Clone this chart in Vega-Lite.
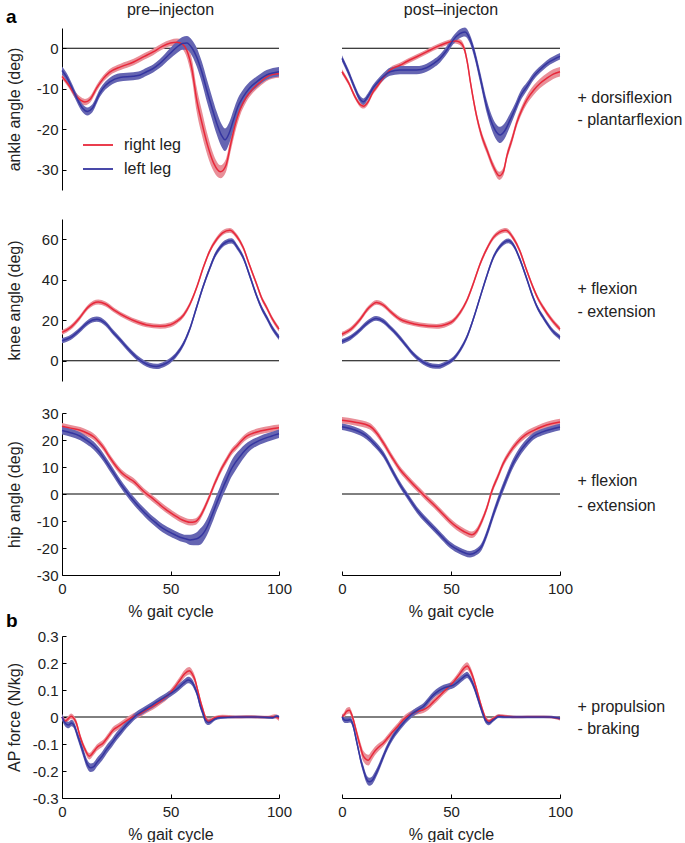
{
"$schema":"https://vega.github.io/schema/vega-lite/v6.json",
"padding":{"left":6,"top":1,"right":0,"bottom":0},
"config":{
 "font":"Liberation Sans",
 "view":{"stroke":null},
 "axis":{"grid":false,"tickSize":-4,"domainColor":"#000","tickColor":"#000","domainWidth":1,"tickWidth":1,"labelFontSize":15,"titleFontSize":16,"titleFontWeight":"normal","labelColor":"#222","titleColor":"#222","labelOverlap":false},
 "axisY":{"labelPadding":8,"titleX":-40,"titleY":81,"titleAngle":270,"titleBaseline":"bottom","titleAlign":"center"},
 "axisX":{"labelPadding":10,"titlePadding":7,"labelFlush":false},
 "title":{"fontSize":16,"fontWeight":"normal","color":"#222","baseline":"alphabetic"},
 "errorband":{"band":{"opacity":1}},
 "text":{"color":"#222","fontSize":16}
},
"datasets":{"d":[
{"p":"A1","l":"R","x":0,"m":-7,"s":0.6},{"p":"A1","l":"R","x":3,"m":-9,"s":0.7},{"p":"A1","l":"R","x":6,"m":-11.5,"s":0.8},{"p":"A1","l":"R","x":8.5,"m":-12.8,"s":0.8},{"p":"A1","l":"R","x":10.5,"m":-13.3,"s":0.8},{"p":"A1","l":"R","x":13,"m":-12.6,"s":0.8},{"p":"A1","l":"R","x":16,"m":-9.8,"s":0.8},{"p":"A1","l":"R","x":19,"m":-7.5,"s":0.8},{"p":"A1","l":"R","x":22,"m":-5.9,"s":0.8},{"p":"A1","l":"R","x":27,"m":-4.6,"s":0.8},{"p":"A1","l":"R","x":33,"m":-3.4,"s":0.8},{"p":"A1","l":"R","x":38,"m":-2,"s":0.8},{"p":"A1","l":"R","x":42,"m":-0.9,"s":0.8},{"p":"A1","l":"R","x":46,"m":0.4,"s":0.8},{"p":"A1","l":"R","x":50,"m":1.3,"s":0.8},{"p":"A1","l":"R","x":53,"m":1.5,"s":0.9},{"p":"A1","l":"R","x":55.5,"m":1,"s":1.2},{"p":"A1","l":"R","x":57.5,"m":-0.5,"s":1.8},{"p":"A1","l":"R","x":60,"m":-5.5,"s":2.5},{"p":"A1","l":"R","x":62,"m":-12.5,"s":3},{"p":"A1","l":"R","x":64.5,"m":-18.5,"s":3},{"p":"A1","l":"R","x":67,"m":-23.8,"s":2.6},{"p":"A1","l":"R","x":70,"m":-28.5,"s":2},{"p":"A1","l":"R","x":73,"m":-30.5,"s":1.6},{"p":"A1","l":"R","x":75.5,"m":-29,"s":1.6},{"p":"A1","l":"R","x":78,"m":-23,"s":1.8},{"p":"A1","l":"R","x":80,"m":-18.5,"s":1.8},{"p":"A1","l":"R","x":82,"m":-15.2,"s":1.5},{"p":"A1","l":"R","x":85,"m":-12,"s":1.2},{"p":"A1","l":"R","x":88,"m":-10,"s":1},{"p":"A1","l":"R","x":91,"m":-8.5,"s":1},{"p":"A1","l":"R","x":94,"m":-7.2,"s":1},{"p":"A1","l":"R","x":97,"m":-6.5,"s":1},{"p":"A1","l":"R","x":100,"m":-6.3,"s":1},
{"p":"A1","l":"L","x":0,"m":-5.5,"s":1},{"p":"A1","l":"L","x":2,"m":-7,"s":1},{"p":"A1","l":"L","x":4.4,"m":-9.5,"s":1},{"p":"A1","l":"L","x":7,"m":-12.5,"s":1},{"p":"A1","l":"L","x":9.5,"m":-14.8,"s":1},{"p":"A1","l":"L","x":11.7,"m":-15.6,"s":1},{"p":"A1","l":"L","x":14,"m":-14.8,"s":1},{"p":"A1","l":"L","x":17.5,"m":-11,"s":1},{"p":"A1","l":"L","x":20,"m":-9.2,"s":1},{"p":"A1","l":"L","x":22,"m":-8.3,"s":1},{"p":"A1","l":"L","x":26.7,"m":-7.2,"s":1},{"p":"A1","l":"L","x":32.8,"m":-6.9,"s":1},{"p":"A1","l":"L","x":36,"m":-6.6,"s":1},{"p":"A1","l":"L","x":39,"m":-5.8,"s":1},{"p":"A1","l":"L","x":42,"m":-5,"s":1},{"p":"A1","l":"L","x":45,"m":-3.8,"s":1.1},{"p":"A1","l":"L","x":49.8,"m":-1.3,"s":1.3},{"p":"A1","l":"L","x":53,"m":0.3,"s":1.5},{"p":"A1","l":"L","x":55.5,"m":1.2,"s":1.6},{"p":"A1","l":"L","x":57.5,"m":1.3,"s":1.7},{"p":"A1","l":"L","x":60,"m":0,"s":2},{"p":"A1","l":"L","x":62,"m":-2.1,"s":2.3},{"p":"A1","l":"L","x":64.5,"m":-6,"s":2.6},{"p":"A1","l":"L","x":66.7,"m":-10.3,"s":2.8},{"p":"A1","l":"L","x":69,"m":-14.5,"s":2.8},{"p":"A1","l":"L","x":71.3,"m":-18.5,"s":2.8},{"p":"A1","l":"L","x":73.5,"m":-21.5,"s":2.8},{"p":"A1","l":"L","x":75.1,"m":-22.6,"s":2.8},{"p":"A1","l":"L","x":77,"m":-21,"s":2.6},{"p":"A1","l":"L","x":79,"m":-17.7,"s":2.4},{"p":"A1","l":"L","x":81,"m":-14.5,"s":2.1},{"p":"A1","l":"L","x":83.5,"m":-12,"s":1.8},{"p":"A1","l":"L","x":86.5,"m":-9.8,"s":1.5},{"p":"A1","l":"L","x":89.7,"m":-8.3,"s":1.3},{"p":"A1","l":"L","x":94.3,"m":-6.6,"s":1.2},{"p":"A1","l":"L","x":100,"m":-5.8,"s":1.2},
{"p":"A2","l":"R","x":0,"m":-5.8,"s":0.6},{"p":"A2","l":"R","x":3,"m":-8.5,"s":0.6},{"p":"A2","l":"R","x":6,"m":-12,"s":0.6},{"p":"A2","l":"R","x":8.5,"m":-14,"s":0.6},{"p":"A2","l":"R","x":10,"m":-14.3,"s":0.6},{"p":"A2","l":"R","x":12,"m":-13.2,"s":0.6},{"p":"A2","l":"R","x":14,"m":-11,"s":0.6},{"p":"A2","l":"R","x":16,"m":-9.5,"s":0.6},{"p":"A2","l":"R","x":19,"m":-7.3,"s":0.6},{"p":"A2","l":"R","x":22,"m":-5.4,"s":0.6},{"p":"A2","l":"R","x":26.6,"m":-4.2,"s":0.6},{"p":"A2","l":"R","x":30,"m":-3.2,"s":0.6},{"p":"A2","l":"R","x":34.3,"m":-2.1,"s":0.6},{"p":"A2","l":"R","x":38.8,"m":-0.9,"s":0.6},{"p":"A2","l":"R","x":45,"m":0.7,"s":0.6},{"p":"A2","l":"R","x":49,"m":1.5,"s":0.6},{"p":"A2","l":"R","x":52,"m":1.8,"s":0.6},{"p":"A2","l":"R","x":54,"m":1.5,"s":0.7},{"p":"A2","l":"R","x":56,"m":0,"s":0.8},{"p":"A2","l":"R","x":57.5,"m":-3.5,"s":1},{"p":"A2","l":"R","x":59,"m":-8.7,"s":1},{"p":"A2","l":"R","x":61.8,"m":-16.9,"s":1},{"p":"A2","l":"R","x":64,"m":-21.5,"s":1},{"p":"A2","l":"R","x":66.4,"m":-25,"s":1},{"p":"A2","l":"R","x":69.4,"m":-29.2,"s":1},{"p":"A2","l":"R","x":72.2,"m":-31.5,"s":1},{"p":"A2","l":"R","x":74,"m":-30.5,"s":1},{"p":"A2","l":"R","x":75.6,"m":-26.7,"s":1},{"p":"A2","l":"R","x":78,"m":-22.5,"s":1},{"p":"A2","l":"R","x":80.1,"m":-18.5,"s":1},{"p":"A2","l":"R","x":82.5,"m":-15.2,"s":1},{"p":"A2","l":"R","x":84.7,"m":-12.8,"s":1.1},{"p":"A2","l":"R","x":88,"m":-10.3,"s":1.2},{"p":"A2","l":"R","x":90.8,"m":-8.7,"s":1.2},{"p":"A2","l":"R","x":94,"m":-7.4,"s":1.2},{"p":"A2","l":"R","x":96.9,"m":-6.4,"s":1.2},{"p":"A2","l":"R","x":100,"m":-5.8,"s":1.2},
{"p":"A2","l":"L","x":0,"m":-2.5,"s":0.8},{"p":"A2","l":"L","x":3,"m":-6,"s":0.8},{"p":"A2","l":"L","x":6,"m":-10,"s":0.8},{"p":"A2","l":"L","x":8,"m":-12.3,"s":0.8},{"p":"A2","l":"L","x":9.8,"m":-13.2,"s":0.8},{"p":"A2","l":"L","x":12,"m":-11.8,"s":0.8},{"p":"A2","l":"L","x":14,"m":-10,"s":0.8},{"p":"A2","l":"L","x":15.9,"m":-8.7,"s":0.8},{"p":"A2","l":"L","x":19,"m":-7,"s":0.9},{"p":"A2","l":"L","x":22,"m":-5.8,"s":1},{"p":"A2","l":"L","x":26.6,"m":-5.4,"s":1},{"p":"A2","l":"L","x":30,"m":-5.4,"s":1},{"p":"A2","l":"L","x":34.3,"m":-5.4,"s":1},{"p":"A2","l":"L","x":38.8,"m":-4.8,"s":1},{"p":"A2","l":"L","x":42,"m":-3.8,"s":1},{"p":"A2","l":"L","x":45,"m":-2.5,"s":1},{"p":"A2","l":"L","x":48,"m":-0.5,"s":1},{"p":"A2","l":"L","x":51,"m":2,"s":1},{"p":"A2","l":"L","x":54,"m":3.6,"s":1.1},{"p":"A2","l":"L","x":56.4,"m":4,"s":1.1},{"p":"A2","l":"L","x":58.5,"m":2.5,"s":1.1},{"p":"A2","l":"L","x":60.4,"m":-0.5,"s":1.2},{"p":"A2","l":"L","x":63.3,"m":-7,"s":1.4},{"p":"A2","l":"L","x":66.4,"m":-14.4,"s":1.6},{"p":"A2","l":"L","x":69.4,"m":-19.3,"s":1.8},{"p":"A2","l":"L","x":72.5,"m":-21.4,"s":2},{"p":"A2","l":"L","x":74.5,"m":-20.5,"s":1.9},{"p":"A2","l":"L","x":77.1,"m":-17.7,"s":1.6},{"p":"A2","l":"L","x":79.5,"m":-14.8,"s":1.3},{"p":"A2","l":"L","x":81.7,"m":-12,"s":1.2},{"p":"A2","l":"L","x":85,"m":-9.3,"s":1},{"p":"A2","l":"L","x":87.8,"m":-7,"s":0.9},{"p":"A2","l":"L","x":91,"m":-5.2,"s":0.8},{"p":"A2","l":"L","x":93.9,"m":-3.8,"s":0.8},{"p":"A2","l":"L","x":97,"m":-2.8,"s":0.8},{"p":"A2","l":"L","x":100,"m":-2,"s":0.8},
{"p":"K1","l":"R","x":0,"m":14,"s":1.2},{"p":"K1","l":"R","x":4,"m":16.5,"s":1.2},{"p":"K1","l":"R","x":8,"m":21,"s":1.2},{"p":"K1","l":"R","x":12,"m":26.5,"s":1.2},{"p":"K1","l":"R","x":16.7,"m":29,"s":1.2},{"p":"K1","l":"R","x":20,"m":28,"s":1.2},{"p":"K1","l":"R","x":24,"m":25,"s":1.2},{"p":"K1","l":"R","x":29.8,"m":21.4,"s":1.2},{"p":"K1","l":"R","x":35,"m":19,"s":1.2},{"p":"K1","l":"R","x":39,"m":17.7,"s":1.2},{"p":"K1","l":"R","x":45.2,"m":17,"s":1.2},{"p":"K1","l":"R","x":50,"m":17.8,"s":1.2},{"p":"K1","l":"R","x":52.8,"m":19.4,"s":1.2},{"p":"K1","l":"R","x":56,"m":22.5,"s":1.2},{"p":"K1","l":"R","x":59,"m":28,"s":1.2},{"p":"K1","l":"R","x":62,"m":36,"s":1.2},{"p":"K1","l":"R","x":65.1,"m":46,"s":1.2},{"p":"K1","l":"R","x":68,"m":54,"s":1.2},{"p":"K1","l":"R","x":71.3,"m":60,"s":1.2},{"p":"K1","l":"R","x":74,"m":63.2,"s":1.2},{"p":"K1","l":"R","x":77.4,"m":64.4,"s":1.2},{"p":"K1","l":"R","x":80.5,"m":61.5,"s":1.2},{"p":"K1","l":"R","x":83.5,"m":55.9,"s":1.2},{"p":"K1","l":"R","x":86.5,"m":47,"s":1.2},{"p":"K1","l":"R","x":89.7,"m":37.8,"s":1.2},{"p":"K1","l":"R","x":92,"m":31,"s":1.2},{"p":"K1","l":"R","x":94.3,"m":26.3,"s":1.2},{"p":"K1","l":"R","x":97,"m":20.5,"s":1.2},{"p":"K1","l":"R","x":100,"m":15.6,"s":1.2},
{"p":"K1","l":"L","x":0,"m":9.9,"s":1.3},{"p":"K1","l":"L","x":4,"m":11.5,"s":1.3},{"p":"K1","l":"L","x":8,"m":15,"s":1.3},{"p":"K1","l":"L","x":12,"m":19,"s":1.3},{"p":"K1","l":"L","x":16,"m":20.5,"s":1.3},{"p":"K1","l":"L","x":20,"m":18.5,"s":1.3},{"p":"K1","l":"L","x":23.6,"m":14,"s":1.3},{"p":"K1","l":"L","x":27.5,"m":9.5,"s":1.3},{"p":"K1","l":"L","x":31.3,"m":4.9,"s":1.3},{"p":"K1","l":"L","x":34.5,"m":1.5,"s":1.3},{"p":"K1","l":"L","x":37.5,"m":-0.8,"s":1.3},{"p":"K1","l":"L","x":40.5,"m":-2.3,"s":1.3},{"p":"K1","l":"L","x":43.6,"m":-2.8,"s":1.3},{"p":"K1","l":"L","x":46.5,"m":-2,"s":1.3},{"p":"K1","l":"L","x":49.8,"m":0,"s":1.3},{"p":"K1","l":"L","x":52.8,"m":3.2,"s":1.3},{"p":"K1","l":"L","x":55.9,"m":8.2,"s":1.3},{"p":"K1","l":"L","x":59,"m":16,"s":1.3},{"p":"K1","l":"L","x":62,"m":26.3,"s":1.3},{"p":"K1","l":"L","x":65,"m":36.5,"s":1.3},{"p":"K1","l":"L","x":68.2,"m":46,"s":1.3},{"p":"K1","l":"L","x":70.5,"m":52,"s":1.3},{"p":"K1","l":"L","x":72.8,"m":55.9,"s":1.3},{"p":"K1","l":"L","x":75.5,"m":58.5,"s":1.3},{"p":"K1","l":"L","x":78.2,"m":59.2,"s":1.3},{"p":"K1","l":"L","x":80.8,"m":56,"s":1.3},{"p":"K1","l":"L","x":83.5,"m":51,"s":1.3},{"p":"K1","l":"L","x":86.5,"m":42,"s":1.3},{"p":"K1","l":"L","x":89.7,"m":32,"s":1.3},{"p":"K1","l":"L","x":92,"m":26,"s":1.3},{"p":"K1","l":"L","x":94.3,"m":21.4,"s":1.3},{"p":"K1","l":"L","x":97,"m":16,"s":1.3},{"p":"K1","l":"L","x":100,"m":11.5,"s":1.3},
{"p":"K2","l":"R","x":0,"m":13.1,"s":1.2},{"p":"K2","l":"R","x":4,"m":15.5,"s":1.2},{"p":"K2","l":"R","x":8,"m":20,"s":1.2},{"p":"K2","l":"R","x":12,"m":25.8,"s":1.2},{"p":"K2","l":"R","x":15.9,"m":28.8,"s":1.2},{"p":"K2","l":"R","x":19,"m":27.5,"s":1.2},{"p":"K2","l":"R","x":22.5,"m":24,"s":1.2},{"p":"K2","l":"R","x":26.6,"m":20.5,"s":1.2},{"p":"K2","l":"R","x":31,"m":18.8,"s":1.2},{"p":"K2","l":"R","x":35.8,"m":17.7,"s":1.2},{"p":"K2","l":"R","x":43.4,"m":17,"s":1.2},{"p":"K2","l":"R","x":48,"m":18,"s":1.2},{"p":"K2","l":"R","x":51,"m":19.7,"s":1.2},{"p":"K2","l":"R","x":54,"m":23.5,"s":1.2},{"p":"K2","l":"R","x":57.2,"m":29.6,"s":1.2},{"p":"K2","l":"R","x":60.2,"m":38,"s":1.2},{"p":"K2","l":"R","x":63.3,"m":47.7,"s":1.2},{"p":"K2","l":"R","x":66.3,"m":55,"s":1.2},{"p":"K2","l":"R","x":69.4,"m":60.8,"s":1.2},{"p":"K2","l":"R","x":72.3,"m":63.5,"s":1.2},{"p":"K2","l":"R","x":75.2,"m":64.4,"s":1.2},{"p":"K2","l":"R","x":78.3,"m":61,"s":1.2},{"p":"K2","l":"R","x":81.6,"m":54.2,"s":1.2},{"p":"K2","l":"R","x":84.6,"m":45,"s":1.2},{"p":"K2","l":"R","x":87.7,"m":36.1,"s":1.2},{"p":"K2","l":"R","x":90,"m":30.5,"s":1.2},{"p":"K2","l":"R","x":92.3,"m":26.3,"s":1.2},{"p":"K2","l":"R","x":96,"m":20.5,"s":1.2},{"p":"K2","l":"R","x":100,"m":15.6,"s":1.2},
{"p":"K2","l":"L","x":0,"m":9.5,"s":1.2},{"p":"K2","l":"L","x":4,"m":11.5,"s":1.2},{"p":"K2","l":"L","x":8,"m":15,"s":1.2},{"p":"K2","l":"L","x":12,"m":19,"s":1.2},{"p":"K2","l":"L","x":15.6,"m":20.9,"s":1.2},{"p":"K2","l":"L","x":19,"m":19.5,"s":1.2},{"p":"K2","l":"L","x":22,"m":16.5,"s":1.2},{"p":"K2","l":"L","x":25.1,"m":13.1,"s":1.2},{"p":"K2","l":"L","x":28.9,"m":8.2,"s":1.2},{"p":"K2","l":"L","x":32.7,"m":3.3,"s":1.2},{"p":"K2","l":"L","x":35.8,"m":0.3,"s":1.2},{"p":"K2","l":"L","x":38.8,"m":-1.6,"s":1.2},{"p":"K2","l":"L","x":41.5,"m":-2.6,"s":1.2},{"p":"K2","l":"L","x":44.2,"m":-2.8,"s":1.2},{"p":"K2","l":"L","x":47.5,"m":-1.5,"s":1.2},{"p":"K2","l":"L","x":51,"m":0.8,"s":1.2},{"p":"K2","l":"L","x":54,"m":5,"s":1.2},{"p":"K2","l":"L","x":57.2,"m":11.5,"s":1.2},{"p":"K2","l":"L","x":60.2,"m":20.5,"s":1.2},{"p":"K2","l":"L","x":63.3,"m":31.2,"s":1.2},{"p":"K2","l":"L","x":66.3,"m":41.5,"s":1.2},{"p":"K2","l":"L","x":69.4,"m":51,"s":1.2},{"p":"K2","l":"L","x":72.5,"m":56.5,"s":1.2},{"p":"K2","l":"L","x":76.4,"m":59.2,"s":1.2},{"p":"K2","l":"L","x":79,"m":56.5,"s":1.2},{"p":"K2","l":"L","x":81.6,"m":50.1,"s":1.2},{"p":"K2","l":"L","x":84.6,"m":41,"s":1.2},{"p":"K2","l":"L","x":87.7,"m":31.2,"s":1.2},{"p":"K2","l":"L","x":90,"m":25.5,"s":1.2},{"p":"K2","l":"L","x":92.3,"m":21.4,"s":1.2},{"p":"K2","l":"L","x":96,"m":15.5,"s":1.2},{"p":"K2","l":"L","x":100,"m":11.5,"s":1.2},
{"p":"H1","l":"R","x":0,"m":25.1,"s":1.2},{"p":"H1","l":"R","x":4,"m":24.4,"s":1.2},{"p":"H1","l":"R","x":8.4,"m":23.6,"s":1.2},{"p":"H1","l":"R","x":11.5,"m":22.6,"s":1.2},{"p":"H1","l":"R","x":14.6,"m":21.2,"s":1.2},{"p":"H1","l":"R","x":17,"m":19.3,"s":1.2},{"p":"H1","l":"R","x":19.2,"m":17.1,"s":1.2},{"p":"H1","l":"R","x":21.5,"m":14.2,"s":1.2},{"p":"H1","l":"R","x":23.8,"m":11.5,"s":1.2},{"p":"H1","l":"R","x":26,"m":9.2,"s":1.2},{"p":"H1","l":"R","x":28.4,"m":7.2,"s":1.2},{"p":"H1","l":"R","x":31,"m":5.7,"s":1.2},{"p":"H1","l":"R","x":33,"m":4.7,"s":1.2},{"p":"H1","l":"R","x":35.3,"m":2.9,"s":1.2},{"p":"H1","l":"R","x":37.6,"m":1,"s":1.2},{"p":"H1","l":"R","x":40.6,"m":-0.9,"s":1.2},{"p":"H1","l":"R","x":43,"m":-2.5,"s":1.2},{"p":"H1","l":"R","x":45.2,"m":-4,"s":1.2},{"p":"H1","l":"R","x":47.5,"m":-5.5,"s":1.2},{"p":"H1","l":"R","x":49.8,"m":-6.8,"s":1.2},{"p":"H1","l":"R","x":52,"m":-8,"s":1.2},{"p":"H1","l":"R","x":54.4,"m":-9.2,"s":1.2},{"p":"H1","l":"R","x":57,"m":-10.1,"s":1.2},{"p":"H1","l":"R","x":59,"m":-10.5,"s":1.2},{"p":"H1","l":"R","x":61.3,"m":-10.3,"s":1.2},{"p":"H1","l":"R","x":63.7,"m":-8.3,"s":1.2},{"p":"H1","l":"R","x":65.2,"m":-6,"s":1.2},{"p":"H1","l":"R","x":66.7,"m":-3.3,"s":1.2},{"p":"H1","l":"R","x":68.3,"m":-0.3,"s":1.2},{"p":"H1","l":"R","x":69.8,"m":2.8,"s":1.2},{"p":"H1","l":"R","x":71.4,"m":5.7,"s":1.2},{"p":"H1","l":"R","x":72.9,"m":8.4,"s":1.2},{"p":"H1","l":"R","x":75.9,"m":12.7,"s":1.2},{"p":"H1","l":"R","x":78,"m":15.5,"s":1.2},{"p":"H1","l":"R","x":80.5,"m":17.7,"s":1.2},{"p":"H1","l":"R","x":83,"m":19.9,"s":1.2},{"p":"H1","l":"R","x":85.1,"m":21.4,"s":1.2},{"p":"H1","l":"R","x":88,"m":22.5,"s":1.2},{"p":"H1","l":"R","x":91.3,"m":23.3,"s":1.2},{"p":"H1","l":"R","x":95.5,"m":24,"s":1.2},{"p":"H1","l":"R","x":100,"m":24.5,"s":1.2},
{"p":"H1","l":"L","x":0,"m":23.5,"s":1.5},{"p":"H1","l":"L","x":4,"m":22.7,"s":1.5},{"p":"H1","l":"L","x":8.4,"m":21.4,"s":1.5},{"p":"H1","l":"L","x":11.5,"m":19.8,"s":1.5},{"p":"H1","l":"L","x":14.6,"m":17.9,"s":1.5},{"p":"H1","l":"L","x":17,"m":15.8,"s":1.5},{"p":"H1","l":"L","x":19.2,"m":13.4,"s":1.5},{"p":"H1","l":"L","x":21.5,"m":10.6,"s":1.5},{"p":"H1","l":"L","x":23.8,"m":7.8,"s":1.5},{"p":"H1","l":"L","x":26,"m":5,"s":1.5},{"p":"H1","l":"L","x":28.4,"m":2.2,"s":1.5},{"p":"H1","l":"L","x":31.4,"m":-0.9,"s":1.5},{"p":"H1","l":"L","x":33.7,"m":-3.1,"s":1.5},{"p":"H1","l":"L","x":36,"m":-5.2,"s":1.5},{"p":"H1","l":"L","x":38.3,"m":-7.1,"s":1.5},{"p":"H1","l":"L","x":40.6,"m":-8.9,"s":1.5},{"p":"H1","l":"L","x":43,"m":-10.5,"s":1.5},{"p":"H1","l":"L","x":45.2,"m":-12,"s":1.5},{"p":"H1","l":"L","x":47.5,"m":-13.2,"s":1.5},{"p":"H1","l":"L","x":49.8,"m":-14.2,"s":1.5},{"p":"H1","l":"L","x":52,"m":-15.1,"s":1.5},{"p":"H1","l":"L","x":54.4,"m":-16,"s":1.5},{"p":"H1","l":"L","x":57,"m":-16.6,"s":1.5},{"p":"H1","l":"L","x":59,"m":-17,"s":1.9},{"p":"H1","l":"L","x":62.1,"m":-16.6,"s":2.4},{"p":"H1","l":"L","x":63.7,"m":-15.8,"s":3},{"p":"H1","l":"L","x":65.2,"m":-14.5,"s":3},{"p":"H1","l":"L","x":66.8,"m":-12.3,"s":3},{"p":"H1","l":"L","x":68.3,"m":-9.5,"s":3},{"p":"H1","l":"L","x":69.8,"m":-6.5,"s":3},{"p":"H1","l":"L","x":71.3,"m":-3.3,"s":3},{"p":"H1","l":"L","x":72.9,"m":-0.2,"s":3},{"p":"H1","l":"L","x":74.4,"m":2.8,"s":3},{"p":"H1","l":"L","x":76,"m":5.6,"s":3},{"p":"H1","l":"L","x":77.5,"m":8.4,"s":3},{"p":"H1","l":"L","x":79.8,"m":11.5,"s":3},{"p":"H1","l":"L","x":82.1,"m":14,"s":2.6},{"p":"H1","l":"L","x":84.4,"m":16.2,"s":2.2},{"p":"H1","l":"L","x":86.7,"m":17.9,"s":1.8},{"p":"H1","l":"L","x":89.7,"m":19.3,"s":1.6},{"p":"H1","l":"L","x":92.8,"m":20.4,"s":1.6},{"p":"H1","l":"L","x":96.4,"m":21.4,"s":1.6},{"p":"H1","l":"L","x":100,"m":22.3,"s":1.6},
{"p":"H2","l":"R","x":0,"m":27.3,"s":1.2},{"p":"H2","l":"R","x":6,"m":26.6,"s":1.2},{"p":"H2","l":"R","x":12.8,"m":25.1,"s":1.2},{"p":"H2","l":"R","x":16,"m":22.5,"s":1.2},{"p":"H2","l":"R","x":19,"m":18.9,"s":1.2},{"p":"H2","l":"R","x":22.8,"m":13.8,"s":1.2},{"p":"H2","l":"R","x":26.6,"m":9.1,"s":1.2},{"p":"H2","l":"R","x":30.5,"m":5.5,"s":1.2},{"p":"H2","l":"R","x":34.3,"m":2.2,"s":1.2},{"p":"H2","l":"R","x":38,"m":-0.8,"s":1.2},{"p":"H2","l":"R","x":42,"m":-3.9,"s":1.2},{"p":"H2","l":"R","x":45.8,"m":-7,"s":1.2},{"p":"H2","l":"R","x":49.5,"m":-10.1,"s":1.2},{"p":"H2","l":"R","x":52.6,"m":-12.2,"s":1.2},{"p":"H2","l":"R","x":55.7,"m":-13.8,"s":1.2},{"p":"H2","l":"R","x":59.5,"m":-15.1,"s":1.2},{"p":"H2","l":"R","x":62,"m":-13.5,"s":1.2},{"p":"H2","l":"R","x":64.1,"m":-10.1,"s":1.2},{"p":"H2","l":"R","x":66.5,"m":-5,"s":1.2},{"p":"H2","l":"R","x":68.7,"m":1,"s":1.2},{"p":"H2","l":"R","x":71.5,"m":6.5,"s":1.2},{"p":"H2","l":"R","x":74.1,"m":11.5,"s":1.2},{"p":"H2","l":"R","x":77,"m":15.5,"s":1.2},{"p":"H2","l":"R","x":80.2,"m":18.9,"s":1.2},{"p":"H2","l":"R","x":84,"m":21.8,"s":1.2},{"p":"H2","l":"R","x":87.8,"m":23.5,"s":1.2},{"p":"H2","l":"R","x":92,"m":25,"s":1.2},{"p":"H2","l":"R","x":96,"m":26,"s":1.2},{"p":"H2","l":"R","x":100,"m":26.7,"s":1.2},
{"p":"H2","l":"L","x":0,"m":24.9,"s":1.2},{"p":"H2","l":"L","x":5.5,"m":23.8,"s":1.2},{"p":"H2","l":"L","x":11.3,"m":21.4,"s":1.2},{"p":"H2","l":"L","x":15,"m":18.5,"s":1.2},{"p":"H2","l":"L","x":19,"m":14.6,"s":1.2},{"p":"H2","l":"L","x":22.8,"m":9,"s":1.2},{"p":"H2","l":"L","x":26.6,"m":3.5,"s":1.2},{"p":"H2","l":"L","x":30.5,"m":-1.3,"s":1.2},{"p":"H2","l":"L","x":34.3,"m":-5.8,"s":1.2},{"p":"H2","l":"L","x":38,"m":-9.3,"s":1.2},{"p":"H2","l":"L","x":42,"m":-12.6,"s":1.2},{"p":"H2","l":"L","x":45.8,"m":-15.8,"s":1.2},{"p":"H2","l":"L","x":49.5,"m":-18.8,"s":1.2},{"p":"H2","l":"L","x":54,"m":-21,"s":1.2},{"p":"H2","l":"L","x":58.7,"m":-22.3,"s":1.2},{"p":"H2","l":"L","x":61.5,"m":-21.5,"s":1.2},{"p":"H2","l":"L","x":64.1,"m":-19.4,"s":1.3},{"p":"H2","l":"L","x":66.8,"m":-14,"s":1.5},{"p":"H2","l":"L","x":69.4,"m":-7.6,"s":1.6},{"p":"H2","l":"L","x":72.5,"m":-0.5,"s":1.7},{"p":"H2","l":"L","x":75.6,"m":5.9,"s":1.7},{"p":"H2","l":"L","x":78.6,"m":11.5,"s":1.7},{"p":"H2","l":"L","x":81.7,"m":15.8,"s":1.6},{"p":"H2","l":"L","x":84.8,"m":19,"s":1.5},{"p":"H2","l":"L","x":87.8,"m":21.4,"s":1.3},{"p":"H2","l":"L","x":92,"m":23,"s":1.2},{"p":"H2","l":"L","x":96,"m":24,"s":1.2},{"p":"H2","l":"L","x":100,"m":24.8,"s":1.2},
{"p":"F1","l":"R","x":0,"m":0,"s":0.01},{"p":"F1","l":"R","x":1.5,"m":-0.015,"s":0.01},{"p":"F1","l":"R","x":3,"m":-0.005,"s":0.01},{"p":"F1","l":"R","x":4.2,"m":0.003,"s":0.01},{"p":"F1","l":"R","x":5.5,"m":-0.005,"s":0.01},{"p":"F1","l":"R","x":6.5,"m":-0.02,"s":0.012},{"p":"F1","l":"R","x":8.3,"m":-0.071,"s":0.012},{"p":"F1","l":"R","x":10.6,"m":-0.12,"s":0.012},{"p":"F1","l":"R","x":12.6,"m":-0.145,"s":0.012},{"p":"F1","l":"R","x":14.5,"m":-0.13,"s":0.012},{"p":"F1","l":"R","x":16,"m":-0.114,"s":0.012},{"p":"F1","l":"R","x":19,"m":-0.096,"s":0.012},{"p":"F1","l":"R","x":21.5,"m":-0.07,"s":0.012},{"p":"F1","l":"R","x":23.7,"m":-0.047,"s":0.012},{"p":"F1","l":"R","x":26,"m":-0.035,"s":0.012},{"p":"F1","l":"R","x":28.3,"m":-0.022,"s":0.012},{"p":"F1","l":"R","x":32.9,"m":0.002,"s":0.012},{"p":"F1","l":"R","x":36,"m":0.012,"s":0.012},{"p":"F1","l":"R","x":39,"m":0.027,"s":0.012},{"p":"F1","l":"R","x":42,"m":0.04,"s":0.012},{"p":"F1","l":"R","x":45.2,"m":0.057,"s":0.012},{"p":"F1","l":"R","x":49.8,"m":0.088,"s":0.012},{"p":"F1","l":"R","x":52,"m":0.11,"s":0.012},{"p":"F1","l":"R","x":54.4,"m":0.137,"s":0.013},{"p":"F1","l":"R","x":56.5,"m":0.16,"s":0.014},{"p":"F1","l":"R","x":58.7,"m":0.171,"s":0.014},{"p":"F1","l":"R","x":60,"m":0.16,"s":0.014},{"p":"F1","l":"R","x":61.3,"m":0.137,"s":0.014},{"p":"F1","l":"R","x":62.5,"m":0.1,"s":0.012},{"p":"F1","l":"R","x":63.6,"m":0.064,"s":0.012},{"p":"F1","l":"R","x":65,"m":0.025,"s":0.012},{"p":"F1","l":"R","x":65.9,"m":0.002,"s":0.01},{"p":"F1","l":"R","x":67.4,"m":-0.016,"s":0.01},{"p":"F1","l":"R","x":69,"m":-0.01,"s":0.008},{"p":"F1","l":"R","x":70.5,"m":-0.002,"s":0.006},{"p":"F1","l":"R","x":74,"m":0.002,"s":0.006},{"p":"F1","l":"R","x":80,"m":0,"s":0.006},{"p":"F1","l":"R","x":85,"m":0.001,"s":0.006},{"p":"F1","l":"R","x":90,"m":0,"s":0.006},{"p":"F1","l":"R","x":95,"m":-0.001,"s":0.006},{"p":"F1","l":"R","x":98,"m":0.002,"s":0.008},{"p":"F1","l":"R","x":100,"m":-0.005,"s":0.01},
{"p":"F1","l":"L","x":0,"m":0,"s":0.012},{"p":"F1","l":"L","x":1.4,"m":-0.022,"s":0.012},{"p":"F1","l":"L","x":3,"m":-0.03,"s":0.012},{"p":"F1","l":"L","x":4.4,"m":-0.022,"s":0.012},{"p":"F1","l":"L","x":5.5,"m":-0.03,"s":0.012},{"p":"F1","l":"L","x":6.8,"m":-0.059,"s":0.014},{"p":"F1","l":"L","x":8.3,"m":-0.095,"s":0.015},{"p":"F1","l":"L","x":9.8,"m":-0.132,"s":0.016},{"p":"F1","l":"L","x":11.3,"m":-0.169,"s":0.016},{"p":"F1","l":"L","x":13.2,"m":-0.188,"s":0.016},{"p":"F1","l":"L","x":14.5,"m":-0.185,"s":0.016},{"p":"F1","l":"L","x":16,"m":-0.169,"s":0.016},{"p":"F1","l":"L","x":18.5,"m":-0.145,"s":0.016},{"p":"F1","l":"L","x":20.6,"m":-0.12,"s":0.016},{"p":"F1","l":"L","x":23,"m":-0.096,"s":0.015},{"p":"F1","l":"L","x":25.2,"m":-0.071,"s":0.015},{"p":"F1","l":"L","x":27.5,"m":-0.05,"s":0.014},{"p":"F1","l":"L","x":29.8,"m":-0.028,"s":0.013},{"p":"F1","l":"L","x":32,"m":-0.01,"s":0.012},{"p":"F1","l":"L","x":34.4,"m":0.008,"s":0.012},{"p":"F1","l":"L","x":37.5,"m":0.024,"s":0.012},{"p":"F1","l":"L","x":40.5,"m":0.039,"s":0.012},{"p":"F1","l":"L","x":43.5,"m":0.055,"s":0.012},{"p":"F1","l":"L","x":46.7,"m":0.07,"s":0.012},{"p":"F1","l":"L","x":49,"m":0.082,"s":0.012},{"p":"F1","l":"L","x":51.3,"m":0.094,"s":0.012},{"p":"F1","l":"L","x":53.6,"m":0.108,"s":0.012},{"p":"F1","l":"L","x":55.9,"m":0.125,"s":0.012},{"p":"F1","l":"L","x":58.2,"m":0.137,"s":0.012},{"p":"F1","l":"L","x":59.8,"m":0.13,"s":0.012},{"p":"F1","l":"L","x":61.3,"m":0.107,"s":0.012},{"p":"F1","l":"L","x":62.5,"m":0.08,"s":0.012},{"p":"F1","l":"L","x":63.6,"m":0.045,"s":0.012},{"p":"F1","l":"L","x":65,"m":0.012,"s":0.011},{"p":"F1","l":"L","x":65.9,"m":-0.01,"s":0.011},{"p":"F1","l":"L","x":67.4,"m":-0.02,"s":0.01},{"p":"F1","l":"L","x":69,"m":-0.015,"s":0.008},{"p":"F1","l":"L","x":70.5,"m":-0.007,"s":0.006},{"p":"F1","l":"L","x":73,"m":-0.002,"s":0.005},{"p":"F1","l":"L","x":80,"m":0,"s":0.005},{"p":"F1","l":"L","x":90,"m":0,"s":0.005},{"p":"F1","l":"L","x":97,"m":-0.002,"s":0.005},{"p":"F1","l":"L","x":99,"m":0.003,"s":0.005},{"p":"F1","l":"L","x":100,"m":0,"s":0.005},
{"p":"F2","l":"R","x":0,"m":0,"s":0.01},{"p":"F2","l":"R","x":1,"m":0.008,"s":0.01},{"p":"F2","l":"R","x":2.1,"m":0.021,"s":0.012},{"p":"F2","l":"R","x":3.4,"m":0.025,"s":0.012},{"p":"F2","l":"R","x":4.3,"m":0.012,"s":0.012},{"p":"F2","l":"R","x":5.2,"m":-0.01,"s":0.012},{"p":"F2","l":"R","x":6.3,"m":-0.045,"s":0.014},{"p":"F2","l":"R","x":7.5,"m":-0.083,"s":0.016},{"p":"F2","l":"R","x":8.6,"m":-0.115,"s":0.018},{"p":"F2","l":"R","x":9.8,"m":-0.145,"s":0.02},{"p":"F2","l":"R","x":12.1,"m":-0.16,"s":0.02},{"p":"F2","l":"R","x":13.5,"m":-0.145,"s":0.018},{"p":"F2","l":"R","x":15.1,"m":-0.126,"s":0.016},{"p":"F2","l":"R","x":17,"m":-0.11,"s":0.014},{"p":"F2","l":"R","x":19,"m":-0.096,"s":0.012},{"p":"F2","l":"R","x":21.2,"m":-0.075,"s":0.012},{"p":"F2","l":"R","x":23.5,"m":-0.053,"s":0.012},{"p":"F2","l":"R","x":25.8,"m":-0.032,"s":0.012},{"p":"F2","l":"R","x":28.1,"m":-0.01,"s":0.012},{"p":"F2","l":"R","x":30.4,"m":0.005,"s":0.012},{"p":"F2","l":"R","x":32.7,"m":0.015,"s":0.012},{"p":"F2","l":"R","x":35,"m":0.022,"s":0.012},{"p":"F2","l":"R","x":37.3,"m":0.027,"s":0.012},{"p":"F2","l":"R","x":39.6,"m":0.038,"s":0.012},{"p":"F2","l":"R","x":42,"m":0.057,"s":0.012},{"p":"F2","l":"R","x":44.3,"m":0.075,"s":0.012},{"p":"F2","l":"R","x":46.6,"m":0.094,"s":0.012},{"p":"F2","l":"R","x":49,"m":0.112,"s":0.012},{"p":"F2","l":"R","x":51.3,"m":0.131,"s":0.012},{"p":"F2","l":"R","x":53.6,"m":0.155,"s":0.013},{"p":"F2","l":"R","x":55.9,"m":0.18,"s":0.014},{"p":"F2","l":"R","x":57.4,"m":0.189,"s":0.014},{"p":"F2","l":"R","x":59,"m":0.17,"s":0.014},{"p":"F2","l":"R","x":60.5,"m":0.137,"s":0.013},{"p":"F2","l":"R","x":62,"m":0.095,"s":0.012},{"p":"F2","l":"R","x":63.5,"m":0.051,"s":0.012},{"p":"F2","l":"R","x":64.7,"m":0.02,"s":0.01},{"p":"F2","l":"R","x":65.8,"m":-0.004,"s":0.01},{"p":"F2","l":"R","x":67.4,"m":-0.016,"s":0.008},{"p":"F2","l":"R","x":69.5,"m":-0.005,"s":0.006},{"p":"F2","l":"R","x":72,"m":0.005,"s":0.006},{"p":"F2","l":"R","x":75,"m":0.003,"s":0.005},{"p":"F2","l":"R","x":80,"m":0,"s":0.005},{"p":"F2","l":"R","x":85,"m":0.001,"s":0.005},{"p":"F2","l":"R","x":90,"m":0.001,"s":0.005},{"p":"F2","l":"R","x":95,"m":0,"s":0.005},{"p":"F2","l":"R","x":100,"m":-0.007,"s":0.006},
{"p":"F2","l":"L","x":0,"m":0,"s":0.01},{"p":"F2","l":"L","x":1.4,"m":-0.012,"s":0.01},{"p":"F2","l":"L","x":2.5,"m":-0.012,"s":0.01},{"p":"F2","l":"L","x":3.7,"m":-0.01,"s":0.01},{"p":"F2","l":"L","x":5.2,"m":-0.034,"s":0.012},{"p":"F2","l":"L","x":6.3,"m":-0.075,"s":0.012},{"p":"F2","l":"L","x":7.5,"m":-0.12,"s":0.013},{"p":"F2","l":"L","x":8.6,"m":-0.16,"s":0.014},{"p":"F2","l":"L","x":9.8,"m":-0.194,"s":0.015},{"p":"F2","l":"L","x":11,"m":-0.225,"s":0.015},{"p":"F2","l":"L","x":12.5,"m":-0.24,"s":0.015},{"p":"F2","l":"L","x":13.8,"m":-0.235,"s":0.015},{"p":"F2","l":"L","x":15.1,"m":-0.218,"s":0.015},{"p":"F2","l":"L","x":17,"m":-0.185,"s":0.014},{"p":"F2","l":"L","x":19,"m":-0.145,"s":0.013},{"p":"F2","l":"L","x":21.2,"m":-0.105,"s":0.012},{"p":"F2","l":"L","x":23.5,"m":-0.071,"s":0.012},{"p":"F2","l":"L","x":25.8,"m":-0.045,"s":0.012},{"p":"F2","l":"L","x":28.1,"m":-0.022,"s":0.012},{"p":"F2","l":"L","x":30.4,"m":-0.002,"s":0.012},{"p":"F2","l":"L","x":32.7,"m":0.015,"s":0.012},{"p":"F2","l":"L","x":35,"m":0.027,"s":0.012},{"p":"F2","l":"L","x":37.3,"m":0.039,"s":0.012},{"p":"F2","l":"L","x":39.6,"m":0.06,"s":0.012},{"p":"F2","l":"L","x":42,"m":0.082,"s":0.012},{"p":"F2","l":"L","x":44.3,"m":0.097,"s":0.012},{"p":"F2","l":"L","x":46.6,"m":0.107,"s":0.012},{"p":"F2","l":"L","x":49,"m":0.113,"s":0.012},{"p":"F2","l":"L","x":51.3,"m":0.119,"s":0.012},{"p":"F2","l":"L","x":53.6,"m":0.133,"s":0.012},{"p":"F2","l":"L","x":55.9,"m":0.149,"s":0.012},{"p":"F2","l":"L","x":57.4,"m":0.156,"s":0.012},{"p":"F2","l":"L","x":59,"m":0.14,"s":0.012},{"p":"F2","l":"L","x":60.5,"m":0.113,"s":0.012},{"p":"F2","l":"L","x":62,"m":0.077,"s":0.012},{"p":"F2","l":"L","x":63.5,"m":0.039,"s":0.012},{"p":"F2","l":"L","x":64.7,"m":0.01,"s":0.011},{"p":"F2","l":"L","x":65.8,"m":-0.012,"s":0.01},{"p":"F2","l":"L","x":67.4,"m":-0.022,"s":0.009},{"p":"F2","l":"L","x":69.5,"m":-0.01,"s":0.007},{"p":"F2","l":"L","x":72,"m":0.002,"s":0.006},{"p":"F2","l":"L","x":75,"m":0,"s":0.005},{"p":"F2","l":"L","x":80,"m":0,"s":0.005},{"p":"F2","l":"L","x":90,"m":0,"s":0.005},{"p":"F2","l":"L","x":95,"m":0,"s":0.005},{"p":"F2","l":"L","x":100,"m":-0.005,"s":0.005}
]},
"vconcat":[
 {"vconcat":[
  {"hconcat":[
   {"width":217,"height":162,"title":{"text":"pre–injecton","offset":-10},
    "layer":[
     {"data":{"values":[{}]},"mark":{"type":"rule","color":"#000","strokeWidth":1},
      "encoding":{"y":{"datum":0,"type":"quantitative","title":"ankle angle (deg)","scale":{"domain":[-35,5]},"axis":{"values":[-30,-20,-10,0],"title":"ankle angle (deg)","labelOverlap":false,"labelExpr":"(datum.value<0?'-':'')+abs(datum.value)"}}}},
     {"data":{"name":"d"},"transform":[{"filter":"datum.p=='A1'"}],"mark":{"type":"errorband","interpolate":"monotone","opacity":1},
      "encoding":{"x":{"field":"x","type":"quantitative","scale":{"domain":[0,100]},"axis":null},"y":{"field":"m","type":"quantitative","title":"ankle angle (deg)","scale":{"domain":[-35,5]},"axis":{"values":[-30,-20,-10,0],"title":"ankle angle (deg)","labelOverlap":false,"labelExpr":"(datum.value<0?'-':'')+abs(datum.value)"}},"yError":{"field":"s"},
       "color":{"field":"l","type":"nominal","scale":{"domain":["R","L"],"range":["#e98f98","#6565b2"]},"legend":null}}},
     {"data":{"name":"d"},"transform":[{"filter":"datum.p=='A1'"}],"mark":{"type":"line","interpolate":"monotone","strokeWidth":1.5},
      "encoding":{"x":{"field":"x","type":"quantitative","scale":{"domain":[0,100]},"axis":null},"y":{"field":"m","type":"quantitative","title":"ankle angle (deg)","scale":{"domain":[-35,5]},"axis":{"values":[-30,-20,-10,0],"title":"ankle angle (deg)","labelOverlap":false,"labelExpr":"(datum.value<0?'-':'')+abs(datum.value)"}},
       "stroke":{"field":"l","type":"nominal","scale":{"domain":["R","L"],"range":["#e8283a","#3535a0"]},
        "legend":{"orient":"none","legendX":20,"legendY":105,"title":null,"symbolType":"stroke","symbolSize":900,"symbolStrokeWidth":1.8,"labelFontSize":16,"labelOffset":10,"labelColor":"#222","clipHeight":24,"rowPadding":0,"padding":0,"labelExpr":"datum.label=='R'?'right leg':'left leg'"}}}},
     {"data":{"values":[{}]},"mark":{"type":"text","fontWeight":"bold","fontSize":19,"align":"left","baseline":"alphabetic","color":"#000"},
      "encoding":{"x":{"datum":-25.8,"axis":null},"y":{"datum":6.2,"title":"ankle angle (deg)","axis":{"values":[-30,-20,-10,0],"title":"ankle angle (deg)","labelOverlap":false,"labelExpr":"(datum.value<0?'-':'')+abs(datum.value)"}},"text":{"value":"a"}}}
    ]},
   {"width":218,"height":162,"title":{"text":"post–injecton","offset":10},
    "layer":[
     {"data":{"values":[{}]},"mark":{"type":"rule","color":"#000","strokeWidth":1},
      "encoding":{"y":{"datum":0,"type":"quantitative","scale":{"domain":[-35,5]},"axis":null}}},
     {"data":{"name":"d"},"transform":[{"filter":"datum.p=='A2'"}],"mark":{"type":"errorband","interpolate":"monotone","opacity":1},
      "encoding":{"x":{"field":"x","type":"quantitative","scale":{"domain":[0,100]},"axis":null},"y":{"field":"m","type":"quantitative","scale":{"domain":[-35,5]},"axis":null},"yError":{"field":"s"},
       "color":{"field":"l","type":"nominal","scale":{"domain":["R","L"],"range":["#e98f98","#6565b2"]},"legend":null}}},
     {"data":{"name":"d"},"transform":[{"filter":"datum.p=='A2'"}],"mark":{"type":"line","interpolate":"monotone","strokeWidth":1.5},
      "encoding":{"x":{"field":"x","type":"quantitative","scale":{"domain":[0,100]},"axis":null},"y":{"field":"m","type":"quantitative","scale":{"domain":[-35,5]},"axis":null},
       "stroke":{"field":"l","type":"nominal","scale":{"domain":["R","L"],"range":["#e8283a","#3535a0"]},"legend":null}}},
     {"data":{"values":[{}]},"mark":{"type":"text","align":"left","baseline":"middle","lineHeight":22},
      "encoding":{"x":{"datum":108,"axis":null},"y":{"datum":-12.3,"axis":null},"text":{"value":["+ dorsiflexion","- plantarflexion"]}}}
    ]}
  ],"spacing":63,"bounds":"flush","resolve":{"legend":{"stroke":"independent"}}},
  {"hconcat":[
   {"width":217,"height":162,
    "layer":[
     {"data":{"values":[{}]},"mark":{"type":"rule","color":"#000","strokeWidth":1},
      "encoding":{"y":{"datum":0,"type":"quantitative","title":"knee angle (deg)","scale":{"domain":[-10,70]},"axis":{"values":[0,20,40,60],"title":"knee angle (deg)","labelOverlap":false}}}},
     {"data":{"name":"d"},"transform":[{"filter":"datum.p=='K1'"}],"mark":{"type":"errorband","interpolate":"monotone","opacity":1},
      "encoding":{"x":{"field":"x","type":"quantitative","scale":{"domain":[0,100]},"axis":null},"y":{"field":"m","type":"quantitative","title":"knee angle (deg)","scale":{"domain":[-10,70]},"axis":{"values":[0,20,40,60],"title":"knee angle (deg)","labelOverlap":false}},"yError":{"field":"s"},
       "color":{"field":"l","type":"nominal","scale":{"domain":["R","L"],"range":["#e98f98","#6565b2"]},"legend":null}}},
     {"data":{"name":"d"},"transform":[{"filter":"datum.p=='K1'"}],"mark":{"type":"line","interpolate":"monotone","strokeWidth":1.5},
      "encoding":{"x":{"field":"x","type":"quantitative","scale":{"domain":[0,100]},"axis":null},"y":{"field":"m","type":"quantitative","title":"knee angle (deg)","scale":{"domain":[-10,70]},"axis":{"values":[0,20,40,60],"title":"knee angle (deg)","labelOverlap":false}},
       "stroke":{"field":"l","type":"nominal","scale":{"domain":["R","L"],"range":["#e8283a","#3535a0"]},"legend":null}}}
    ]},
   {"width":218,"height":162,
    "layer":[
     {"data":{"values":[{}]},"mark":{"type":"rule","color":"#000","strokeWidth":1},
      "encoding":{"y":{"datum":0,"type":"quantitative","scale":{"domain":[-10,70]},"axis":null}}},
     {"data":{"name":"d"},"transform":[{"filter":"datum.p=='K2'"}],"mark":{"type":"errorband","interpolate":"monotone","opacity":1},
      "encoding":{"x":{"field":"x","type":"quantitative","scale":{"domain":[0,100]},"axis":null},"y":{"field":"m","type":"quantitative","scale":{"domain":[-10,70]},"axis":null},"yError":{"field":"s"},
       "color":{"field":"l","type":"nominal","scale":{"domain":["R","L"],"range":["#e98f98","#6565b2"]},"legend":null}}},
     {"data":{"name":"d"},"transform":[{"filter":"datum.p=='K2'"}],"mark":{"type":"line","interpolate":"monotone","strokeWidth":1.5},
      "encoding":{"x":{"field":"x","type":"quantitative","scale":{"domain":[0,100]},"axis":null},"y":{"field":"m","type":"quantitative","scale":{"domain":[-10,70]},"axis":null},
       "stroke":{"field":"l","type":"nominal","scale":{"domain":["R","L"],"range":["#e8283a","#3535a0"]},"legend":null}}},
     {"data":{"values":[{}]},"mark":{"type":"text","align":"left","baseline":"middle","lineHeight":23},
      "encoding":{"x":{"datum":108,"axis":null},"y":{"datum":35.4,"axis":null},"text":{"value":["+ flexion","- extension"]}}}
    ]}
  ],"spacing":63,"bounds":"flush","resolve":{"legend":{"stroke":"independent"}}}
 ],"spacing":29,"resolve":{"legend":{"stroke":"independent"}}},
 {"vconcat":[
  {"hconcat":[
   {"width":217,"height":162,
    "layer":[
     {"data":{"values":[{}]},"mark":{"type":"rule","color":"#000","strokeWidth":1},
      "encoding":{"y":{"datum":0,"type":"quantitative","title":"hip angle (deg)","scale":{"domain":[-30,30]},"axis":{"values":[-30,-20,-10,0,10,20,30],"title":"hip angle (deg)","labelOverlap":false,"labelExpr":"(datum.value<0?'-':'')+abs(datum.value)"}}}},
     {"data":{"name":"d"},"transform":[{"filter":"datum.p=='H1'"}],"mark":{"type":"errorband","interpolate":"monotone","opacity":1},
      "encoding":{"x":{"field":"x","type":"quantitative","title":"% gait cycle","scale":{"domain":[0,100]},"axis":{"values":[0,50,100],"title":"% gait cycle"}},"y":{"field":"m","type":"quantitative","title":"hip angle (deg)","scale":{"domain":[-30,30]},"axis":{"values":[-30,-20,-10,0,10,20,30],"title":"hip angle (deg)","labelOverlap":false,"labelExpr":"(datum.value<0?'-':'')+abs(datum.value)"}},"yError":{"field":"s"},
       "color":{"field":"l","type":"nominal","scale":{"domain":["R","L"],"range":["#e98f98","#6565b2"]},"legend":null}}},
     {"data":{"name":"d"},"transform":[{"filter":"datum.p=='H1'"}],"mark":{"type":"line","interpolate":"monotone","strokeWidth":1.5},
      "encoding":{"x":{"field":"x","type":"quantitative","title":"% gait cycle","scale":{"domain":[0,100]},"axis":{"values":[0,50,100],"title":"% gait cycle"}},"y":{"field":"m","type":"quantitative","title":"hip angle (deg)","scale":{"domain":[-30,30]},"axis":{"values":[-30,-20,-10,0,10,20,30],"title":"hip angle (deg)","labelOverlap":false,"labelExpr":"(datum.value<0?'-':'')+abs(datum.value)"}},
       "stroke":{"field":"l","type":"nominal","scale":{"domain":["R","L"],"range":["#e8283a","#3535a0"]},"legend":null}}}
    ]},
   {"width":218,"height":162,
    "layer":[
     {"data":{"values":[{}]},"mark":{"type":"rule","color":"#000","strokeWidth":1},
      "encoding":{"y":{"datum":0,"type":"quantitative","scale":{"domain":[-30,30]},"axis":null}}},
     {"data":{"name":"d"},"transform":[{"filter":"datum.p=='H2'"}],"mark":{"type":"errorband","interpolate":"monotone","opacity":1},
      "encoding":{"x":{"field":"x","type":"quantitative","title":"% gait cycle","scale":{"domain":[0,100]},"axis":{"values":[0,50,100],"title":"% gait cycle"}},"y":{"field":"m","type":"quantitative","scale":{"domain":[-30,30]},"axis":null},"yError":{"field":"s"},
       "color":{"field":"l","type":"nominal","scale":{"domain":["R","L"],"range":["#e98f98","#6565b2"]},"legend":null}}},
     {"data":{"name":"d"},"transform":[{"filter":"datum.p=='H2'"}],"mark":{"type":"line","interpolate":"monotone","strokeWidth":1.5},
      "encoding":{"x":{"field":"x","type":"quantitative","title":"% gait cycle","scale":{"domain":[0,100]},"axis":{"values":[0,50,100],"title":"% gait cycle"}},"y":{"field":"m","type":"quantitative","scale":{"domain":[-30,30]},"axis":null},
       "stroke":{"field":"l","type":"nominal","scale":{"domain":["R","L"],"range":["#e8283a","#3535a0"]},"legend":null}}},
     {"data":{"values":[{}]},"mark":{"type":"text","align":"left","baseline":"middle","lineHeight":25},
      "encoding":{"x":{"datum":108,"title":"% gait cycle","axis":{"values":[0,50,100],"title":"% gait cycle"}},"y":{"datum":4.8,"axis":null},"text":{"value":["+ flexion","- extension"]}}}
    ]}
  ],"spacing":63,"bounds":"flush","resolve":{"legend":{"stroke":"independent"}}},
  {"hconcat":[
   {"width":217,"height":162,
    "layer":[
     {"data":{"values":[{}]},"mark":{"type":"rule","color":"#000","strokeWidth":1},
      "encoding":{"y":{"datum":0,"type":"quantitative","title":"AP force (N/kg)","scale":{"domain":[-0.3,0.3]},"axis":{"values":[-0.3,-0.2,-0.1,0,0.1,0.2,0.3],"title":"AP force (N/kg)","labelOverlap":false,"labelExpr":"datum.value==0?'0':(datum.value<0?'-':'')+format(abs(datum.value),'.1f')"}}}},
     {"data":{"name":"d"},"transform":[{"filter":"datum.p=='F1'"}],"mark":{"type":"errorband","interpolate":"monotone","opacity":1},
      "encoding":{"x":{"field":"x","type":"quantitative","title":"% gait cycle","scale":{"domain":[0,100]},"axis":{"values":[0,50,100],"title":"% gait cycle"}},"y":{"field":"m","type":"quantitative","title":"AP force (N/kg)","scale":{"domain":[-0.3,0.3]},"axis":{"values":[-0.3,-0.2,-0.1,0,0.1,0.2,0.3],"title":"AP force (N/kg)","labelOverlap":false,"labelExpr":"datum.value==0?'0':(datum.value<0?'-':'')+format(abs(datum.value),'.1f')"}},"yError":{"field":"s"},
       "color":{"field":"l","type":"nominal","scale":{"domain":["R","L"],"range":["#e98f98","#6565b2"]},"legend":null}}},
     {"data":{"name":"d"},"transform":[{"filter":"datum.p=='F1'"}],"mark":{"type":"line","interpolate":"monotone","strokeWidth":1.5},
      "encoding":{"x":{"field":"x","type":"quantitative","title":"% gait cycle","scale":{"domain":[0,100]},"axis":{"values":[0,50,100],"title":"% gait cycle"}},"y":{"field":"m","type":"quantitative","title":"AP force (N/kg)","scale":{"domain":[-0.3,0.3]},"axis":{"values":[-0.3,-0.2,-0.1,0,0.1,0.2,0.3],"title":"AP force (N/kg)","labelOverlap":false,"labelExpr":"datum.value==0?'0':(datum.value<0?'-':'')+format(abs(datum.value),'.1f')"}},
       "stroke":{"field":"l","type":"nominal","scale":{"domain":["R","L"],"range":["#e8283a","#3535a0"]},"legend":null}}},
     {"data":{"values":[{}]},"mark":{"type":"text","fontWeight":"bold","fontSize":19,"align":"left","baseline":"alphabetic","color":"#000"},
      "encoding":{"x":{"datum":-25.8,"title":"% gait cycle","axis":{"values":[0,50,100],"title":"% gait cycle"}},"y":{"datum":0.333,"title":"AP force (N/kg)","axis":{"values":[-0.3,-0.2,-0.1,0,0.1,0.2,0.3],"title":"AP force (N/kg)","labelOverlap":false,"labelExpr":"datum.value==0?'0':(datum.value<0?'-':'')+format(abs(datum.value),'.1f')"}},"text":{"value":"b"}}}
    ]},
   {"width":218,"height":162,
    "layer":[
     {"data":{"values":[{}]},"mark":{"type":"rule","color":"#000","strokeWidth":1},
      "encoding":{"y":{"datum":0,"type":"quantitative","scale":{"domain":[-0.3,0.3]},"axis":null}}},
     {"data":{"name":"d"},"transform":[{"filter":"datum.p=='F2'"}],"mark":{"type":"errorband","interpolate":"monotone","opacity":1},
      "encoding":{"x":{"field":"x","type":"quantitative","title":"% gait cycle","scale":{"domain":[0,100]},"axis":{"values":[0,50,100],"title":"% gait cycle"}},"y":{"field":"m","type":"quantitative","scale":{"domain":[-0.3,0.3]},"axis":null},"yError":{"field":"s"},
       "color":{"field":"l","type":"nominal","scale":{"domain":["R","L"],"range":["#e98f98","#6565b2"]},"legend":null}}},
     {"data":{"name":"d"},"transform":[{"filter":"datum.p=='F2'"}],"mark":{"type":"line","interpolate":"monotone","strokeWidth":1.5},
      "encoding":{"x":{"field":"x","type":"quantitative","title":"% gait cycle","scale":{"domain":[0,100]},"axis":{"values":[0,50,100],"title":"% gait cycle"}},"y":{"field":"m","type":"quantitative","scale":{"domain":[-0.3,0.3]},"axis":null},
       "stroke":{"field":"l","type":"nominal","scale":{"domain":["R","L"],"range":["#e8283a","#3535a0"]},"legend":null}}},
     {"data":{"values":[{}]},"mark":{"type":"text","align":"left","baseline":"middle","lineHeight":22},
      "encoding":{"x":{"datum":108,"title":"% gait cycle","axis":{"values":[0,50,100],"title":"% gait cycle"}},"y":{"datum":0.037,"axis":null},"text":{"value":["+ propulsion","- braking"]}}}
    ]}
  ],"spacing":63,"bounds":"flush","resolve":{"legend":{"stroke":"independent"}}}
 ],"spacing":-7,"resolve":{"legend":{"stroke":"independent"}}}
],
"spacing":25,"resolve":{"legend":{"stroke":"independent"}}
}
